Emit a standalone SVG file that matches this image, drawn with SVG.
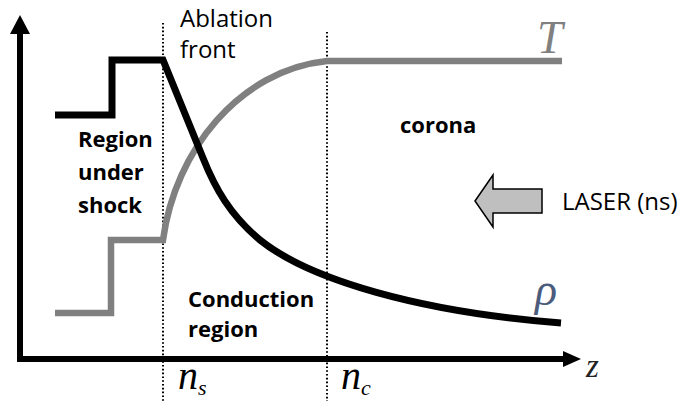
<svg xmlns="http://www.w3.org/2000/svg" width="685" height="401" viewBox="0 0 685 401">
<style>
.lbl{font-family:"Open Sans","Liberation Sans",sans-serif;font-size:24px;fill:#000}
.b{font-family:"Open Sans","Liberation Sans",sans-serif;font-size:22px;font-weight:bold;fill:#000}
.m{font-family:"Liberation Serif","DejaVu Serif",serif;font-style:italic}
.dot{stroke:#000;stroke-width:2;stroke-dasharray:1.6 2.2;fill:none}
</style>
<rect width="685" height="401" fill="#fff"/>
<g id="axes">
<path d="M20,359 V30 M17,359 H566" stroke="#000" stroke-width="6" fill="none"/>
<polygon points="20,15 10,34 30,34"/>
<polygon points="581,359 563,351 563,367"/>
</g>
<g id="guides">
<line class="dot" x1="163" y1="23" x2="163" y2="401"/>
<line class="dot" x1="327" y1="32" x2="327" y2="401"/>
</g>
<g id="curves" fill="none" stroke-linejoin="miter">
<path id="T-curve" d="M55,313 H111 V240 H163 C175,150 240,70 327,61 H562" stroke="#808080" stroke-width="6.5"/>
<path id="rho-curve" d="M55,115 H112 V60 H163 L203,158 C215,188 230,215 260,240 C310,280 420,312 561,323" stroke="#000" stroke-width="7"/>
</g>
<g id="laser">
<path d="M475,201 L493,175 V189 H542 V213 H493 V227 Z" fill="#bfbfbf" stroke="#000" stroke-width="1.5" stroke-linejoin="miter"/>
<text class="lbl" x="562" y="210">LASER (ns)</text>
</g>
<g id="labels">
<text class="lbl" x="180" y="27">Ablation</text>
<text class="lbl" x="180" y="58">front</text>
<text class="b" x="78" y="147">Region</text>
<text class="b" x="78" y="180">under</text>
<text class="b" x="78" y="213">shock</text>
<text class="b" x="400" y="133">corona</text>
<text class="b" x="188" y="307">Conduction</text>
<text class="b" x="188" y="337">region</text>
<text class="m" x="537" y="53" font-size="46" fill="#808080">T</text>
<text class="m" x="535" y="305" font-size="46" fill="#4c5c7c">ρ</text>
<text class="m" x="586" y="377" font-size="33" fill="#222">z</text>
<text class="m" x="178" y="389" font-size="40">n<tspan font-size="22" y="395">s</tspan></text>
<text class="m" x="341" y="389" font-size="40">n<tspan font-size="22" y="395">c</tspan></text>
</g>
</svg>
